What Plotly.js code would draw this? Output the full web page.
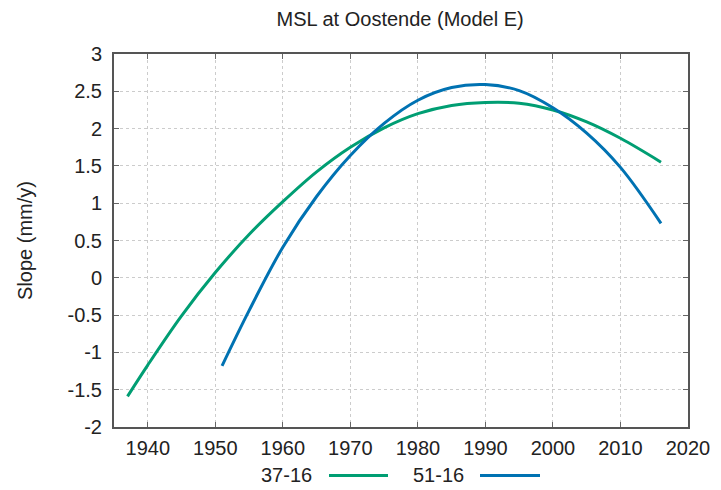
<!DOCTYPE html>
<html>
<head>
<meta charset="utf-8">
<script src="https://cdn.plot.ly/plotly-3.0.1.min.js"></script>
<style>html,body{margin:0;padding:0;background:#fff;}#chart{width:721px;height:490px;}</style>
</head>
<body>
<div id="chart"></div>
<script>
const chartTitle = "MSL at Oostende (Model E)";
const yTitle = "Slope (mm/y)";
const seriesNames = ["37-16", "51-16"];
const seriesColors = ["#009e73", "#0072b2"];

const years3716 = [1937, 1940, 1945, 1950, 1955, 1960, 1965, 1970, 1975, 1980, 1985, 1990, 1995, 2000, 2005, 2010, 2016];
const slope3716 = [-1.59, -1.17, -0.51, 0.07, 0.58, 1.02, 1.42, 1.75, 2.01, 2.20, 2.31, 2.35, 2.34, 2.25, 2.09, 1.87, 1.55];

const years5116 = [1951, 1955, 1960, 1965, 1970, 1975, 1980, 1985, 1990, 1995, 2000, 2005, 2010, 2016];
const slope5116 = [-1.18, -0.44, 0.41, 1.09, 1.64, 2.07, 2.38, 2.55, 2.59, 2.51, 2.28, 1.94, 1.48, 0.73];

const xTickVals = [1940, 1950, 1960, 1970, 1980, 1990, 2000, 2010, 2020];
const yTickVals = [-2, -1.5, -1, -0.5, 0, 0.5, 1, 1.5, 2, 2.5, 3];
const yTickText = ["-2", "-1.5", "-1", "-0.5", "0", "0.5", "1", "1.5", "2", "2.5", "3"];

const FONT = "Liberation Sans, Arial, sans-serif";
const FS = 20;
const TXT = "#222";

const traces = [
  {x: years3716, y: slope3716, name: seriesNames[0], type: "scatter", mode: "lines",
   line: {color: seriesColors[0], width: 3, shape: "spline"}, showlegend: false},
  {x: years5116, y: slope5116, name: seriesNames[1], type: "scatter", mode: "lines",
   line: {color: seriesColors[1], width: 3, shape: "spline"}, showlegend: false}
];

const axisCommon = {
  showline: true, linecolor: "#555", linewidth: 2, mirror: "ticks",
  ticks: "inside", ticklen: 5, tickcolor: "#666", tickwidth: 1,
  showgrid: true, gridcolor: "#cccccc", griddash: "3px,3px", gridwidth: 1,
  zeroline: false, tickfont: {family: FONT, size: FS, color: TXT}
};

const LY = -0.130;
const PW = 574;
const layout = {
  width: 721, height: 490,
  margin: {l: 114, r: 33, t: 54, b: 63},
  paper_bgcolor: "#fff", plot_bgcolor: "#fff",
  font: {family: FONT, size: FS, color: TXT},
  title: {text: chartTitle, x: 0.555, xanchor: "center", y: 0.961, yanchor: "middle",
          font: {family: FONT, size: FS, color: TXT}},
  xaxis: Object.assign({}, axisCommon, {range: [1935, 2020], tickvals: xTickVals, ticklabelstandoff: 2}),
  yaxis: Object.assign({}, axisCommon, {range: [-2, 3], tickvals: yTickVals, ticktext: yTickText,
          ticklabelstandoff: 6,
          title: {text: yTitle, standoff: 30, font: {family: FONT, size: FS, color: TXT}}}),
  annotations: [
    {xref: "paper", yref: "paper", x: (314-114)/PW, y: LY, xanchor: "right", yanchor: "middle",
     text: seriesNames[0], showarrow: false, font: {family: FONT, size: FS, color: TXT}},
    {xref: "paper", yref: "paper", x: (466-114)/PW, y: LY, xanchor: "right", yanchor: "middle",
     text: seriesNames[1], showarrow: false, font: {family: FONT, size: FS, color: TXT}}
  ],
  shapes: [
    {type: "line", xref: "paper", yref: "paper", x0: (329-114)/PW, x1: (388-114)/PW, y0: LY, y1: LY,
     line: {color: seriesColors[0], width: 3}},
    {type: "line", xref: "paper", yref: "paper", x0: (480-114)/PW, x1: (540-114)/PW, y0: LY, y1: LY,
     line: {color: seriesColors[1], width: 3}}
  ]
};

Plotly.newPlot("chart", traces, layout, {displayModeBar: false, staticPlot: true});
</script>
</body>
</html>
